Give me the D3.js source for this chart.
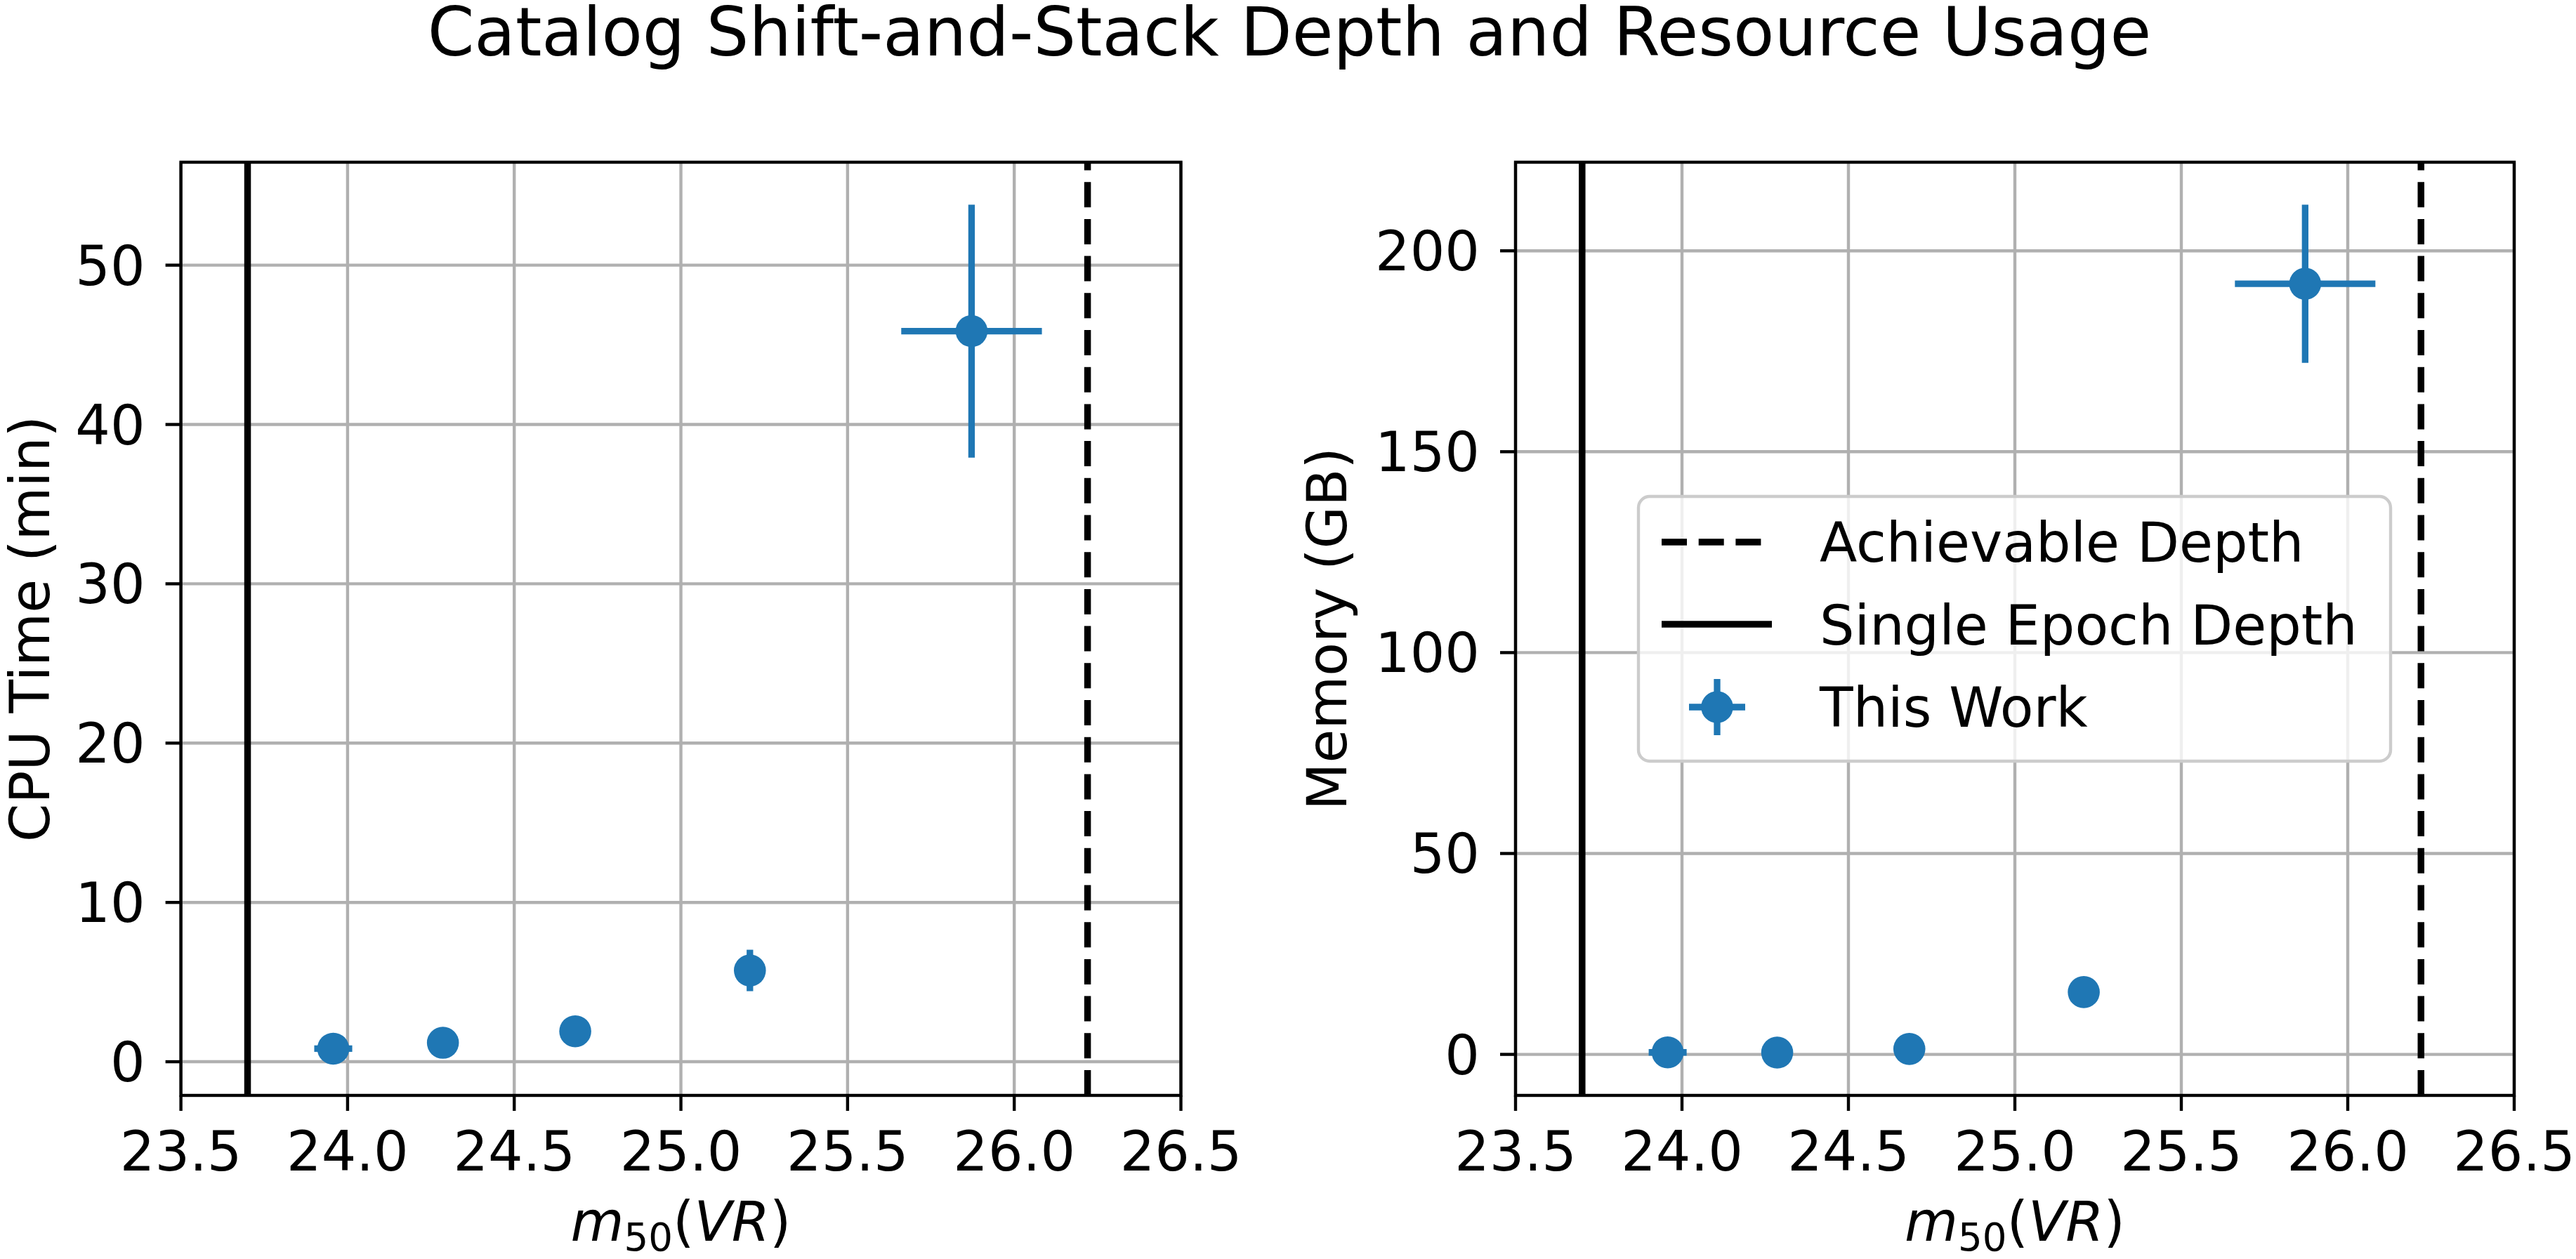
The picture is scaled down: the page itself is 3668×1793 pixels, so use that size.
<!DOCTYPE html>
<html>
<head>
<meta charset="utf-8">
<script src="https://cdn.jsdelivr.net/npm/d3@7"></script>
<style>
  body { margin: 0; background: #fff; }
  text { font-family: "DejaVu Sans", sans-serif; }
</style>
</head>
<body>
<svg id="chart" width="3668" height="1793"></svg>
<script>
// data
var depth = [23.957, 24.286, 24.683, 25.207, 25.872];
var depthErr = [0.057, 0.03, 0.03, 0.03, 0.211];
var cpuTime = [0.82, 1.19, 1.91, 5.73, 45.86];
var cpuErr = [0.27, 0.4, 0.5, 1.3, 7.94];
var memory = [0.5, 0.45, 1.35, 15.5, 191.8];
var memoryErr = [0.08, 0.1, 0.6, 2.5, 19.7];
var xTicks = [23.5, 24.0, 24.5, 25.0, 25.5, 26.0, 26.5];
var cpuTicks = [0, 10, 20, 30, 40, 50];
var memTicks = [0, 50, 100, 150, 200];
var singleEpochDepth = 23.7;
var achievableDepth = 26.22;

var blue = '#1f77b4';
var fs = 78;
var svg = d3.select('#chart');

svg.append('rect').attr('width', 3668).attr('height', 1793).attr('fill', '#fff');

svg.append('text')
    .attr('x', 1836).attr('y', 79)
    .attr('text-anchor', 'middle')
    .style('font-size', '95.5px')
    .text('Catalog Shift-and-Stack Depth and Resource Usage');

function drawPanel(left, right, yVals, yErr, yTicks, yLabel, yLabelX, withLegend) {
    var top = 231, bottom = 1560;
    var g = svg.append('g');

    var x = d3.scaleLinear().domain([23.5, 26.5]).range([left, right]);

    // matplotlib style 5% margins around data incl. error bars
    var lo = d3.min(yVals, function (d, i) { return d - yErr[i]; });
    var hi = d3.max(yVals, function (d, i) { return d + yErr[i]; });
    var pad = (hi - lo) * 0.05;
    var y = d3.scaleLinear().domain([lo - pad, hi + pad]).range([bottom, top]);

    // grid
    g.selectAll('.gx').data(xTicks).enter().append('line')
        .attr('x1', function (d) { return x(d); }).attr('x2', function (d) { return x(d); })
        .attr('y1', top).attr('y2', bottom)
        .attr('stroke', '#b0b0b0').attr('stroke-width', 4.4);
    g.selectAll('.gy').data(yTicks).enter().append('line')
        .attr('x1', left).attr('x2', right)
        .attr('y1', function (d) { return y(d); }).attr('y2', function (d) { return y(d); })
        .attr('stroke', '#b0b0b0').attr('stroke-width', 4.4);

    // reference depths
    g.append('line')
        .attr('x1', x(singleEpochDepth)).attr('x2', x(singleEpochDepth))
        .attr('y1', bottom).attr('y2', top)
        .attr('stroke', '#000').attr('stroke-width', 9.5);
    g.append('line')
        .attr('x1', x(achievableDepth)).attr('x2', x(achievableDepth))
        .attr('y1', bottom).attr('y2', top)
        .attr('stroke', '#000').attr('stroke-width', 9.5)
        .attr('stroke-dasharray', '36,16.7');

    // error bars + points
    var pts = g.selectAll('.pt').data(yVals).enter().append('g');
    pts.append('line')
        .attr('x1', function (d, i) { return x(depth[i]); })
        .attr('x2', function (d, i) { return x(depth[i]); })
        .attr('y1', function (d, i) { return y(d - yErr[i]); })
        .attr('y2', function (d, i) { return y(d + yErr[i]); })
        .attr('stroke', blue).attr('stroke-width', 9.3);
    pts.append('line')
        .attr('x1', function (d, i) { return x(depth[i] - depthErr[i]); })
        .attr('x2', function (d, i) { return x(depth[i] + depthErr[i]); })
        .attr('y1', function (d) { return y(d); })
        .attr('y2', function (d) { return y(d); })
        .attr('stroke', blue).attr('stroke-width', 9.3);
    pts.append('circle')
        .attr('cx', function (d, i) { return x(depth[i]); })
        .attr('cy', function (d) { return y(d); })
        .attr('r', 22.8)
        .attr('fill', blue);

    // frame
    g.append('rect')
        .attr('x', left).attr('y', top)
        .attr('width', right - left).attr('height', bottom - top)
        .attr('fill', 'none').attr('stroke', '#000').attr('stroke-width', 4.4);

    // ticks
    g.selectAll('.tx').data(xTicks).enter().append('line')
        .attr('x1', function (d) { return x(d); }).attr('x2', function (d) { return x(d); })
        .attr('y1', bottom).attr('y2', bottom + 22)
        .attr('stroke', '#000').attr('stroke-width', 4.4);
    g.selectAll('.lx').data(xTicks).enter().append('text')
        .attr('x', function (d) { return x(d); }).attr('y', 1667)
        .attr('text-anchor', 'middle')
        .style('font-size', fs + 'px')
        .text(function (d) { return d3.format('.1f')(d); });
    g.selectAll('.ty').data(yTicks).enter().append('line')
        .attr('x1', left - 22).attr('x2', left)
        .attr('y1', function (d) { return y(d); }).attr('y2', function (d) { return y(d); })
        .attr('stroke', '#000').attr('stroke-width', 4.4);
    g.selectAll('.ly').data(yTicks).enter().append('text')
        .attr('x', left - 51).attr('y', function (d) { return y(d) + 28; })
        .attr('text-anchor', 'end')
        .style('font-size', fs + 'px')
        .text(function (d) { return d; });

    // axis labels
    var xl = g.append('text')
        .attr('x', (left + right) / 2).attr('y', 1767)
        .attr('text-anchor', 'middle')
        .style('font-size', fs + 'px');
    xl.append('tspan').style('font-style', 'italic').text('m');
    xl.append('tspan').style('font-size', (fs * 0.7) + 'px').attr('dy', 14).text('50');
    xl.append('tspan').attr('dy', -14).text('(');
    xl.append('tspan').style('font-style', 'italic').text('VR');
    xl.append('tspan').text(')');

    g.append('text')
        .attr('transform', 'translate(' + yLabelX + ',' + ((top + bottom) / 2) + ') rotate(-90)')
        .attr('text-anchor', 'middle')
        .style('font-size', fs + 'px')
        .text(yLabel);

    if (withLegend) {
        var lg = g.append('g');
        lg.append('rect')
            .attr('x', 2333).attr('y', 707).attr('width', 1071).attr('height', 377)
            .attr('rx', 16).attr('ry', 16)
            .attr('fill', '#fff').attr('fill-opacity', 0.8)
            .attr('stroke', '#cccccc').attr('stroke-width', 4.4);
        lg.append('line').attr('x1', 2366).attr('x2', 2523).attr('y1', 772).attr('y2', 772)
            .attr('stroke', '#000').attr('stroke-width', 9.5).attr('stroke-dasharray', '36,16.7');
        lg.append('line').attr('x1', 2366).attr('x2', 2523).attr('y1', 889).attr('y2', 889)
            .attr('stroke', '#000').attr('stroke-width', 9.5);
        lg.append('line').attr('x1', 2445).attr('x2', 2445).attr('y1', 967).attr('y2', 1047)
            .attr('stroke', blue).attr('stroke-width', 9.3);
        lg.append('line').attr('x1', 2405).attr('x2', 2485).attr('y1', 1007).attr('y2', 1007)
            .attr('stroke', blue).attr('stroke-width', 9.3);
        lg.append('circle').attr('cx', 2445).attr('cy', 1007).attr('r', 22.8).attr('fill', blue);
        var labels = ['Achievable Depth', 'Single Epoch Depth', 'This Work'];
        lg.selectAll('.lt').data(labels).enter().append('text')
            .attr('x', 2591).attr('y', function (d, i) { return 800 + i * 117.5; })
            .style('font-size', fs + 'px')
            .text(function (d) { return d; });
    }
}

drawPanel(257.6, 1681.5, cpuTime, cpuErr, cpuTicks, 'CPU Time (min)', 70, false);
drawPanel(2158, 3580, memory, memoryErr, memTicks, 'Memory (GB)', 1917, true);
</script>
</body>
</html>
